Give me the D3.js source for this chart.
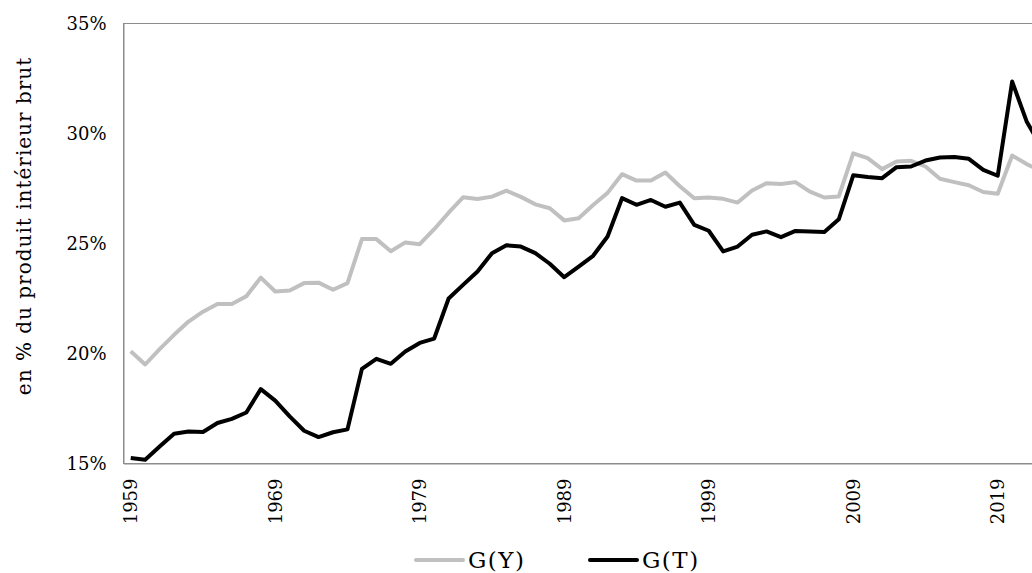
<!DOCTYPE html>
<html>
<head>
<meta charset="utf-8">
<script src="https://cdn.jsdelivr.net/npm/d3@7"></script>
<style>
  body { margin: 0; background: #fff; }
  svg { display: block; }
</style>
</head>
<body>
<div id="chart"></div>
<script>
// years 1959..2022
var years = d3.range(1959, 2023).map(String);

// G(Y), % of GDP
var gY = [20.1, 19.5, 20.2, 20.85, 21.45, 21.9, 22.25, 22.25, 22.6, 23.45,
  22.82, 22.86, 23.2, 23.22, 22.9, 23.2, 25.2, 25.2, 24.65, 25.05,
  24.97, 25.65, 26.4, 27.1, 27.02, 27.13, 27.4, 27.12, 26.78, 26.6,
  26.05, 26.15, 26.75, 27.3, 28.15, 27.86, 27.86, 28.23, 27.6, 27.06,
  27.09, 27.03, 26.86, 27.41, 27.74, 27.7, 27.79, 27.36, 27.09, 27.14,
  29.1, 28.88, 28.38, 28.73, 28.76, 28.5, 27.94, 27.79, 27.65, 27.34,
  27.26, 29.0, 28.61, 28.3];

// G(T), % of GDP
var gT = [15.25, 15.17, 15.77, 16.35, 16.45, 16.43, 16.84, 17.03, 17.32, 18.38,
  17.86, 17.14, 16.49, 16.2, 16.42, 16.55, 19.3, 19.76, 19.53, 20.09,
  20.48, 20.68, 22.5, 23.12, 23.73, 24.56, 24.92, 24.86, 24.56, 24.08,
  23.47, 23.95, 24.44, 25.32, 27.06, 26.76, 26.98, 26.67, 26.86, 25.85,
  25.58, 24.64, 24.86, 25.4, 25.55, 25.29, 25.57, 25.55, 25.52, 26.1,
  28.1, 28.02, 27.97, 28.47, 28.5, 28.77, 28.91, 28.93, 28.85, 28.35,
  28.08, 32.36, 30.55, 29.4];

var yTicks = [15, 20, 25, 30, 35];
var xTicks = ["1959", "1969", "1979", "1989", "1999", "2009", "2019"];

var series = [
  { name: "G(Y)", values: gY, color: "#c0c0c0" },
  { name: "G(T)", values: gT, color: "#000000" }
];

(function() {
var width = 1032, height = 573;
var plotLeft = 123.5, plotTop = 23.5, plotBottom = 463.5;
var step = 14.45;
var serif = "'DejaVu Serif', 'Liberation Serif', serif";

var svg = d3.select("#chart").append("svg")
  .attr("width", width)
  .attr("height", height);

var x = d3.scaleBand()
  .domain(years)
  .range([plotLeft, plotLeft + years.length * step])
  .padding(0);

var y = d3.scaleLinear()
  .domain([15, 35])
  .range([plotBottom, plotTop]);

// plot area border (runs past the right edge like the original)
svg.append("rect")
  .attr("x", plotLeft)
  .attr("y", plotTop)
  .attr("width", years.length * step)
  .attr("height", plotBottom - plotTop)
  .attr("fill", "none")
  .attr("stroke", "#8c8c8c")
  .attr("stroke-width", 1);

var yAxis = svg.append("g")
  .attr("transform", "translate(" + plotLeft + ",0)")
  .call(d3.axisLeft(y).tickValues(yTicks).tickSize(0).tickPadding(17)
    .tickFormat(function(d) { return d + "%"; }));
yAxis.select(".domain").attr("stroke", "#8c8c8c");
yAxis.selectAll("text")
  .attr("font-family", serif)
  .attr("font-size", "18px")
  .attr("fill", "#000");

var xAxis = svg.append("g")
  .attr("transform", "translate(0," + plotBottom + ")")
  .call(d3.axisBottom(x).tickValues(xTicks).tickSize(0));
xAxis.select(".domain").attr("stroke", "#8c8c8c");
xAxis.selectAll("text")
  .attr("font-family", serif)
  .attr("font-size", "18px")
  .attr("fill", "#000")
  .attr("text-anchor", "end")
  .attr("transform", "rotate(-90)")
  .attr("x", -15)
  .attr("y", 0)
  .attr("dy", "0.35em");

svg.append("text")
  .attr("transform", "translate(31,226) rotate(-90)")
  .attr("text-anchor", "middle")
  .attr("font-family", serif)
  .attr("font-size", "20px")
  .attr("letter-spacing", "1px")
  .attr("fill", "#000")
  .text("en % du produit intérieur brut");

var line = d3.line()
  .x(function(d, i) { return x(years[i]) + x.bandwidth() / 2; })
  .y(function(d) { return y(d); });

svg.selectAll("path.series")
  .data(series)
  .enter().append("path")
  .attr("class", "series")
  .attr("fill", "none")
  .attr("stroke", function(d) { return d.color; })
  .attr("stroke-width", 4)
  .attr("stroke-linejoin", "round")
  .attr("d", function(d) { return line(d.values); });

// legend
var legendX = [416, 590];
var legend = svg.selectAll("g.legend")
  .data(series)
  .enter().append("g")
  .attr("class", "legend")
  .attr("transform", function(d, i) { return "translate(" + legendX[i] + ",560)"; });

legend.append("line")
  .attr("x1", 0).attr("x2", 47)
  .attr("stroke", function(d) { return d.color; })
  .attr("stroke-width", 4)
  .attr("stroke-linecap", "round");

legend.append("text")
  .attr("x", 52)
  .attr("dy", "0.35em")
  .attr("font-family", serif)
  .attr("font-size", "23px")
  .attr("letter-spacing", "1.5px")
  .attr("fill", "#000")
  .text(function(d) { return d.name; });
})();
</script>
</body>
</html>
